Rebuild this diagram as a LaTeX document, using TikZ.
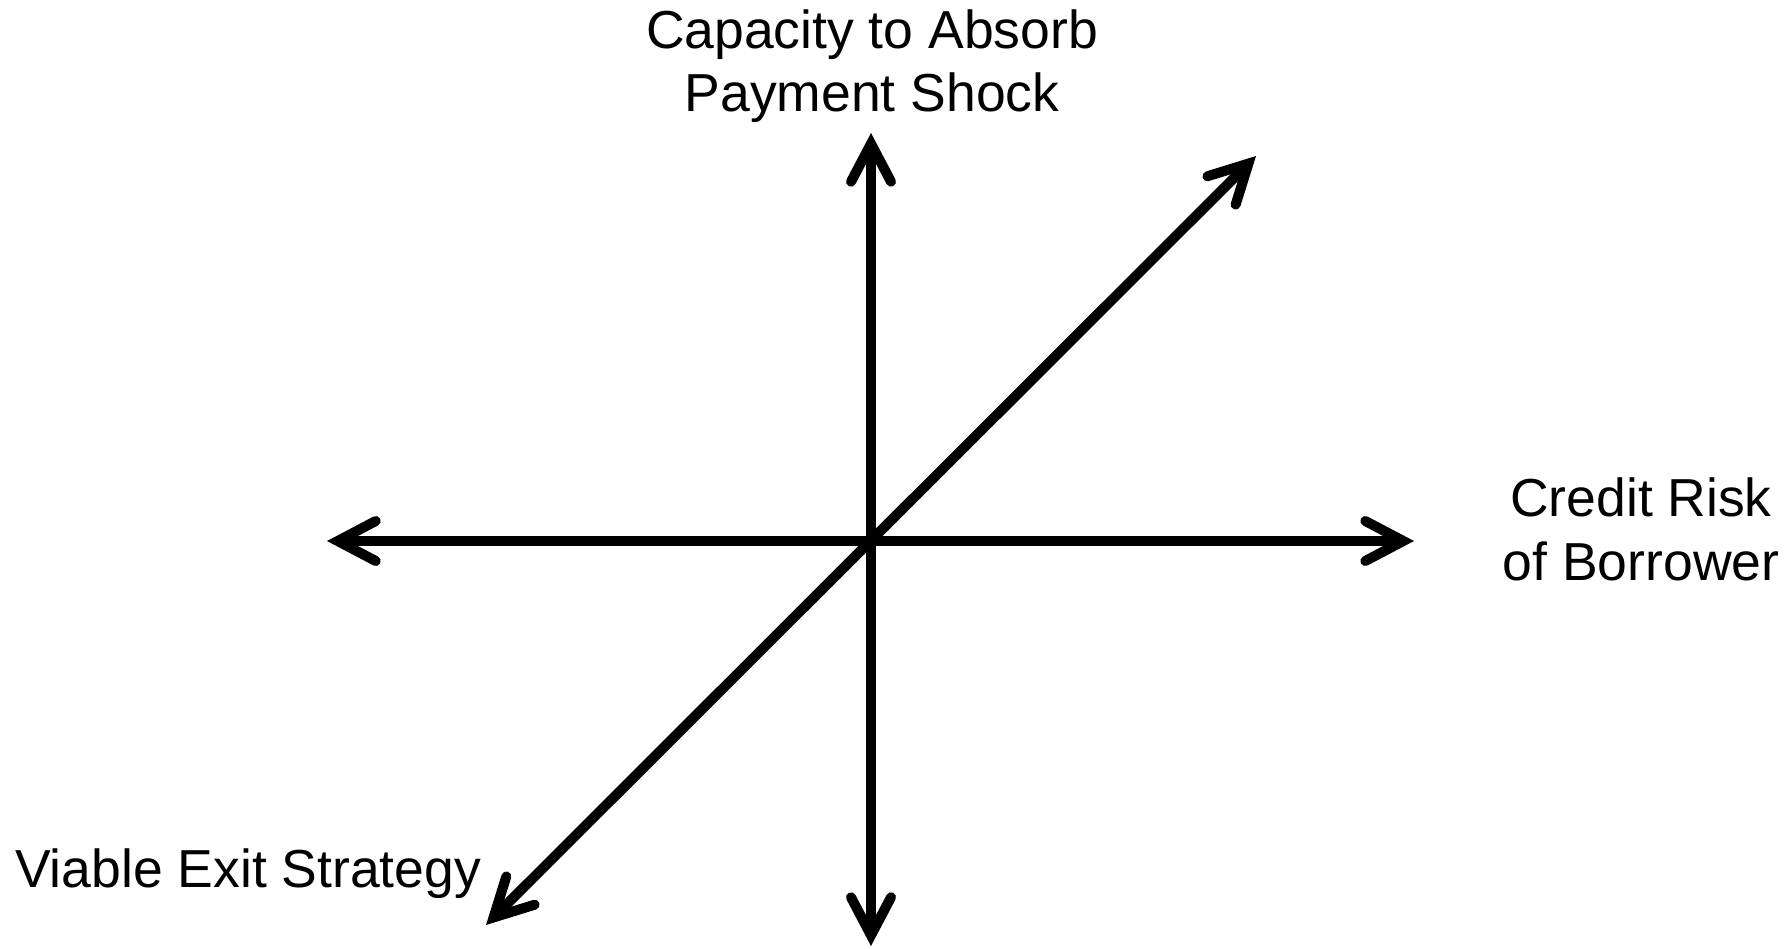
\documentclass[tikz,border=0pt]{standalone}
\usepackage{fontspec}
\setmainfont{Liberation Sans}
\usetikzlibrary{arrows.meta}
\tikzset{
  barb/.tip={Straight Barb[length=38pt,width=40pt,line cap=round,line join=miter]},
  axis/.style={line width=10pt, line cap=butt, barb-barb},
  lbl/.style={inner sep=0pt, align=center, font=\fontsize{53.5}{63.5}\selectfont}
}
\begin{document}
\begin{tikzpicture}[x=1pt,y=-1pt]
\useasboundingbox[fill=white] (0,0) rectangle (1787,949);
\coordinate (c) at (871,541);
\coordinate (top) at (871,133);
\coordinate (bottom) at (871,946);
\coordinate (left) at (327,541);
\coordinate (right) at (1414,541);
\coordinate (ll) at (486,925);
\coordinate (ur) at (1256,156);
\draw[axis] (bottom) -- (top);
\draw[axis] (left) -- (right);
\draw[axis] (ll) -- (ur);
\node[lbl, anchor=base] (tl) at (872,112) {Capacity to Absorb\\Payment Shock};
\node[lbl, anchor=base] (rl) at (1641,580) {Credit Risk\\of Borrower};
\node[lbl, anchor=base west] (bl) at (15,887) {Viable Exit Strategy};
\end{tikzpicture}
\end{document}
